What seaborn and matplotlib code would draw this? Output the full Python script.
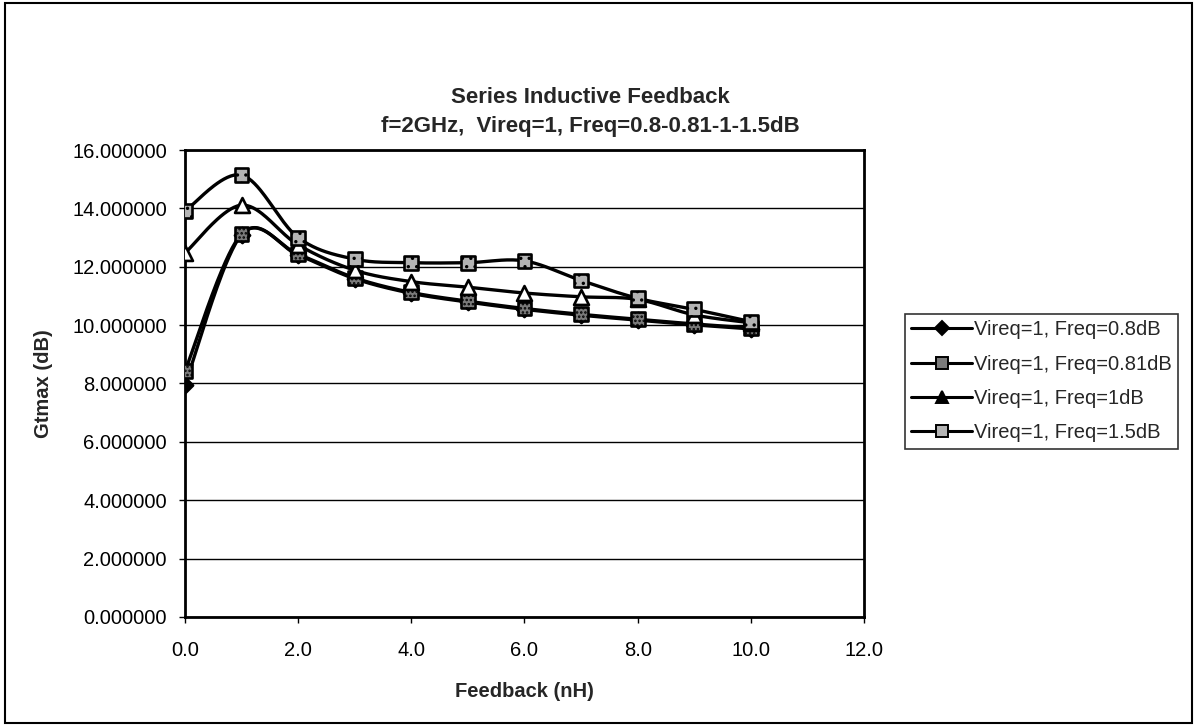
import numpy as np
import pandas as pd
import matplotlib
matplotlib.use("Agg")
import matplotlib.pyplot as plt
from matplotlib.lines import Line2D
from matplotlib.patches import Rectangle
import seaborn as sns

# Feedback inductance (nH) and maximum transducer gain (dB) per noise requirement
feedback = [0, 1, 2, 3, 4, 5, 6, 7, 8, 9, 10]
g_080 = [7.95, 13.10, 12.40, 11.59, 11.09, 10.79, 10.54, 10.34, 10.17, 10.01, 9.87]
g_081 = [8.42, 13.12, 12.43, 11.62, 11.12, 10.82, 10.57, 10.37, 10.20, 10.04, 9.90]
g_100 = [12.47, 14.11, 12.75, 11.88, 11.49, 11.30, 11.10, 10.97, 10.88, 10.35, 10.08]
g_150 = [13.91, 15.14, 13.00, 12.26, 12.14, 12.14, 12.20, 11.53, 10.92, 10.54, 10.12]

labels = ["Vireq=1, Freq=0.8dB", "Vireq=1, Freq=0.81dB",
          "Vireq=1, Freq=1dB", "Vireq=1, Freq=1.5dB"]
series = [g_080, g_081, g_100, g_150]

title = "Series Inductive Feedback\nf=2GHz,  Vireq=1, Freq=0.8-0.81-1-1.5dB"
x_ticks = [0, 2, 4, 6, 8, 10, 12]
y_ticks = [0, 2, 4, 6, 8, 10, 12, 14, 16]


def smooth_curve(x, y, n=40):
    """Bezier smoothing through every point (spreadsheet-style smoothed line)."""
    p = np.column_stack([x, y]).astype(float)
    ext = np.vstack([p[0], p, p[-1]])
    t = np.linspace(0, 1, n)[:, None]
    out = []
    for i in range(len(p) - 1):
        p0, p1, p2, p3 = ext[i], ext[i + 1], ext[i + 2], ext[i + 3]
        c1 = p1 + (p2 - p0) / 6.0
        c2 = p2 - (p3 - p1) / 6.0
        seg = ((1 - t) ** 3) * p1 + 3 * ((1 - t) ** 2) * t * c1 \
            + 3 * (1 - t) * (t ** 2) * c2 + (t ** 3) * p2
        out.append(seg if i == 0 else seg[1:])
    return np.vstack(out)


points = pd.DataFrame({
    "feedback": np.tile(feedback, len(series)),
    "gain": np.concatenate(series),
    "series": np.repeat(labels, len(feedback)),
})
curves = []
for lab, vals in zip(labels, series):
    c = smooth_curve(feedback, vals)
    curves.append(pd.DataFrame({"feedback": c[:, 0], "gain": c[:, 1], "series": lab}))
curves = pd.concat(curves, ignore_index=True)

sns.set_theme(style="white")
plt.rcParams["font.family"] = ["Liberation Sans", "DejaVu Sans"]
plt.rcParams["hatch.linewidth"] = 1.2

fig = plt.figure(figsize=(11.94, 7.25), dpi=100)
ax = fig.add_axes([0.1549, 0.1490, 0.5687, 0.6441])

black = {lab: "black" for lab in labels}
sns.lineplot(data=curves, x="feedback", y="gain", hue="series", palette=black,
             estimator=None, sort=False, linewidth=2.4, legend=False, ax=ax, zorder=3)

marker_styles = {
    labels[0]: dict(marker="D", facecolor="black", hatch=None, s=60),
    labels[1]: dict(marker="s", facecolor="#7a7a7a", hatch="....", s=100),
    labels[2]: dict(marker="^", facecolor="white", hatch=None, s=115),
    labels[3]: dict(marker="s", facecolor="#b4b4b4", hatch="..", s=100),
}
for lab in labels:
    st = marker_styles[lab]
    sub = points[points["series"] == lab]
    kw = dict(data=sub, x="feedback", y="gain", marker=st["marker"], s=st["s"],
              color=st["facecolor"], edgecolor="black", linewidth=1.9,
              legend=False, ax=ax, zorder=4)
    if st["hatch"]:
        kw["hatch"] = st["hatch"]
    sns.scatterplot(**kw)

ax.set_xlim(0, 12)
ax.set_ylim(0, 16)
ax.set_xticks(x_ticks)
ax.set_xticklabels([f"{v:.1f}" for v in x_ticks])
ax.set_yticks(y_ticks)
ax.set_yticklabels([f"{v:.6f}" for v in y_ticks])
ax.yaxis.grid(True, color="black", linewidth=1.0, zorder=0)
ax.xaxis.grid(False)
for sp in ax.spines.values():
    sp.set_color("black")
    sp.set_linewidth(2.0)
    sp.set_visible(True)
ax.tick_params(axis="both", which="major", direction="out", length=4, width=1,
               color="black", labelsize=14.5, labelcolor="black", left=True, bottom=True)
ax.tick_params(axis="y", pad=9)
ax.tick_params(axis="x", pad=13)
ax.set_xlabel("Feedback (nH)", fontsize=14.5, fontweight="bold", labelpad=16)
ax.set_ylabel("Gtmax (dB)", fontsize=14.5, fontweight="bold", labelpad=14)

fig.text(590 / 1194, 1 - 112 / 725, title, ha="center", va="center",
         fontsize=16, fontweight="bold", linespacing=1.45)

handles = []
for lab in labels:
    st = marker_styles[lab]
    handles.append(Line2D([0], [0], color="black", linewidth=2.2,
                          marker=st["marker"], markersize=8 if st["marker"] != "D" else 7,
                          markerfacecolor="black" if st["marker"] == "^" else st["facecolor"],
                          markeredgecolor="black", markeredgewidth=1.4))
leg = fig.legend(handles, labels, loc="upper left", bbox_to_anchor=(905 / 1194, 1 - 314 / 725),
                 frameon=True, fancybox=False, edgecolor="black", fontsize=14.5,
                 handlelength=3.0, handletextpad=0.1, borderpad=0.32, labelspacing=0.76,
                 borderaxespad=0.0)
leg.get_frame().set_linewidth(1.2)

fig.patches.append(Rectangle((5 / 1194, 2 / 725), 1187 / 1194, 720 / 725,
                             transform=fig.transFigure, fill=False,
                             edgecolor="black", linewidth=1.5, zorder=10))

fig.savefig("out.png", dpi=100, facecolor="white")
